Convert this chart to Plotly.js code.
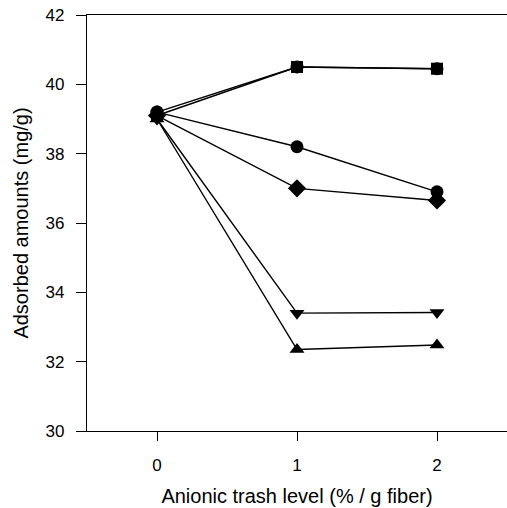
<!DOCTYPE html>
<html><head><meta charset="utf-8">
<script src="https://cdn.plot.ly/plotly-3.0.1.min.js"></script>
<style>html,body{margin:0;padding:0;background:#fff}</style>
</head><body>
<div id="chart" style="width:507px;height:508px"></div>
<script>
const xVals = [0, 1, 2];
const squareVals = [39.1, 40.5, 40.45];
const circleTopVals = [39.2, 40.5, 40.45];
const circleVals = [39.2, 38.2, 36.9];
const diamondVals = [39.1, 37.0, 36.65];
const triDownVals = [39.0, 33.4, 33.42];
const triUpVals = [39.0, 32.35, 32.48];
const yTicks = [30, 32, 34, 36, 38, 40, 42];
const xTicks = [0, 1, 2];

function series(y, symbol, size) {
  return {x: xVals, y: y, type: 'scatter', mode: 'lines+markers',
    line: {color: '#000', width: 1.4},
    marker: {symbol: symbol, size: size, color: '#000'}};
}
const data = [
  series(triUpVals, 'triangle-up', 13),
  series(triDownVals, 'triangle-down', 13),
  series(diamondVals, 'diamond', 14),
  series(circleVals, 'circle', 13),
  series(circleTopVals, 'circle', 13),
  series(squareVals, 'square', 12)
];
const tickFont = {family: 'Liberation Sans, Arial, sans-serif', size: 17, color: '#000'};
const titleFont = {family: 'Liberation Sans, Arial, sans-serif', size: 20, color: '#000'};
const layout = {
  width: 507, height: 508,
  margin: {l: 87, r: 0, t: 15, b: 77},
  showlegend: false,
  paper_bgcolor: '#fff', plot_bgcolor: '#fff',
  font: tickFont,
  xaxis: {range: [-0.5, 2.5], tickvals: xTicks, ticktext: xTicks.map(String),
    showgrid: false, zeroline: false, showline: true, linecolor: '#000', linewidth: 1.2,
    mirror: true, ticks: 'outside', ticklen: 9, tickcolor: '#000', tickwidth: 1,
    tickfont: tickFont, ticklabelstandoff: 9,
    title: {text: 'Anionic trash level (% / g fiber)', font: titleFont, standoff: 15}},
  yaxis: {range: [30, 42], tickvals: yTicks, ticktext: yTicks.map(String),
    showgrid: false, zeroline: false, showline: true, linecolor: '#000', linewidth: 1.2,
    ticks: 'outside', ticklen: 10, tickcolor: '#000', tickwidth: 1,
    tickfont: tickFont, ticklabelstandoff: 8,
    title: {text: 'Adsorbed amounts (mg/g)', font: titleFont, standoff: 11}}
};
Plotly.newPlot('chart', data, layout, {displayModeBar: false, staticPlot: true});
</script>
</body></html>
